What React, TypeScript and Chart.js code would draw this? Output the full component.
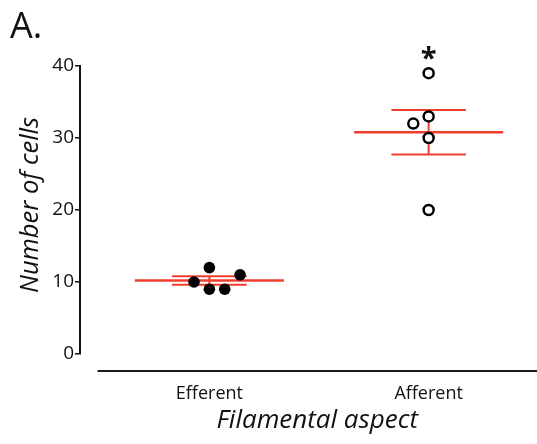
import React, { useEffect, useRef } from "react";
import { Chart, registerables } from "chart.js";

Chart.register(...registerables);

const CATEGORIES = ["Efferent", "Afferent"];
const EFFERENT_VALUES = [10, 12, 9, 9, 11];
const EFFERENT_JITTER = [-0.07, 0, 0, 0.07, 0.14];
const AFFERENT_VALUES = [39, 33, 32, 30, 20];
const AFFERENT_JITTER = [0, 0, -0.07, 0, 0];
const Y_TICKS = [0, 10, 20, 30, 40];
const SIGNIFICANCE = { category: 2, label: "*", value: 41.6 };

const RED = "rgb(240, 62, 44)";
const FONT = "'Open Sans', 'DejaVu Sans', sans-serif";

const mean = (a: number[]) => a.reduce((s, v) => s + v, 0) / a.length;
const sem = (a: number[]) => {
  const m = mean(a);
  const v = a.reduce((s, x) => s + (x - m) * (x - m), 0) / (a.length - 1);
  return Math.sqrt(v / a.length);
};

const GROUPS = [EFFERENT_VALUES, AFFERENT_VALUES];

const overlay = {
  id: "overlay",
  beforeDatasetsDraw(chart: any) {
    const { ctx, scales } = chart;
    const x = scales.x;
    const y = scales.y;
    ctx.save();
    ctx.strokeStyle = RED;
    GROUPS.forEach((vals, i) => {
      const c = i + 1;
      const m = mean(vals);
      const s = sem(vals);
      const cx = x.getPixelForValue(c);
      ctx.lineWidth = 2;
      ctx.beginPath();
      ctx.moveTo(cx, y.getPixelForValue(m + s));
      ctx.lineTo(cx, y.getPixelForValue(m - s));
      ctx.stroke();
      [m + s, m - s].forEach((v) => {
        ctx.beginPath();
        ctx.moveTo(x.getPixelForValue(c - 0.17), y.getPixelForValue(v));
        ctx.lineTo(x.getPixelForValue(c + 0.17), y.getPixelForValue(v));
        ctx.stroke();
      });
      ctx.lineWidth = 2.5;
      ctx.beginPath();
      ctx.moveTo(x.getPixelForValue(c - 0.34), y.getPixelForValue(m));
      ctx.lineTo(x.getPixelForValue(c + 0.34), y.getPixelForValue(m));
      ctx.stroke();
    });
    ctx.restore();
  },
  afterDraw(chart: any) {
    const { ctx, scales, chartArea, width } = chart;
    const x = scales.x;
    const y = scales.y;
    ctx.save();
    ctx.strokeStyle = "#1a1a1a";
    ctx.lineWidth = 2;
    const ly = chartArea.bottom + 17;
    const lx = x.getPixelForValue(0.49);
    ctx.beginPath();
    ctx.moveTo(lx, ly);
    ctx.lineTo(width, ly);
    ctx.stroke();

    ctx.fillStyle = "#111";
    ctx.font = `36px ${FONT}`;
    ctx.textAlign = "left";
    ctx.textBaseline = "alphabetic";
    ctx.fillText("A.", 10, 38);

    ctx.font = `bold 29px ${FONT}`;
    ctx.textAlign = "center";
    ctx.textBaseline = "middle";
    ctx.fillText(
      SIGNIFICANCE.label,
      x.getPixelForValue(SIGNIFICANCE.category),
      y.getPixelForValue(SIGNIFICANCE.value) + 5
    );

    ctx.font = `italic 26px ${FONT}`;
    ctx.textAlign = "center";
    ctx.textBaseline = "middle";
    ctx.fillText("Filamental aspect", (lx + width) / 2, 421);

    ctx.translate(31, (chartArea.top + chartArea.bottom) / 2 - 5);
    ctx.rotate(-Math.PI / 2);
    ctx.font = `italic 25.5px ${FONT}`;
    ctx.fillText("Number of cells", 0, 0);
    ctx.restore();
  },
};

export default function App() {
  const ref = useRef<HTMLCanvasElement | null>(null);
  useEffect(() => {
    if (!ref.current) return;
    const chart = new Chart(ref.current, {
      type: "scatter",
      data: {
        datasets: [
          {
            label: CATEGORIES[0],
            data: EFFERENT_VALUES.map((v, i) => ({ x: 1 + EFFERENT_JITTER[i], y: v })),
            backgroundColor: "#000",
            borderColor: "#000",
            borderWidth: 0,
            pointRadius: 5.8,
          },
          {
            label: CATEGORIES[1],
            data: AFFERENT_VALUES.map((v, i) => ({ x: 2 + AFFERENT_JITTER[i], y: v })),
            backgroundColor: "#fff",
            borderColor: "#000",
            borderWidth: 2.5,
            pointRadius: 5,
          },
        ],
      },
      options: {
        animation: false,
        responsive: true,
        maintainAspectRatio: false,
        layout: { padding: { top: 66, left: 0, right: 0, bottom: 0 } },
        plugins: { legend: { display: false }, tooltip: { enabled: false } },
        scales: {
          x: {
            type: "linear",
            min: 0.41,
            max: 2.46,
            grid: { display: false },
            border: { display: false },
            afterBuildTicks: (s: any) => {
              s.ticks = CATEGORIES.map((_, i) => ({ value: i + 1 }));
            },
            afterFit: (s: any) => {
              s.height = 90;
              s.paddingLeft = 0;
              s.paddingRight = 0;
            },
            ticks: {
              autoSkip: false,
              maxRotation: 0,
              padding: 21,
              color: "#111",
              font: { family: FONT, size: 18 },
              callback: (v: any) => CATEGORIES[Math.round(v) - 1] ?? "",
            },
          },
          y: {
            min: 0,
            max: 40,
            afterBuildTicks: (s: any) => {
              s.ticks = Y_TICKS.map((v) => ({ value: v }));
            },
            afterFit: (s: any) => {
              s.width = 80;
            },
            grid: {
              display: true,
              drawOnChartArea: false,
              drawTicks: true,
              tickLength: 5,
              color: "#111",
              lineWidth: 1.5,
            },
            border: { display: true, color: "#111", width: 2 },
            ticks: {
              padding: 1,
              color: "#111",
              font: { family: FONT, size: 19 },
            },
          },
        },
      },
      plugins: [overlay],
    });
    return () => chart.destroy();
  }, []);
  return (
    <div style={{ position: "absolute", left: 0, top: 0, width: 537, height: 444, background: "#fff" }}>
      <canvas ref={ref} />
    </div>
  );
}
